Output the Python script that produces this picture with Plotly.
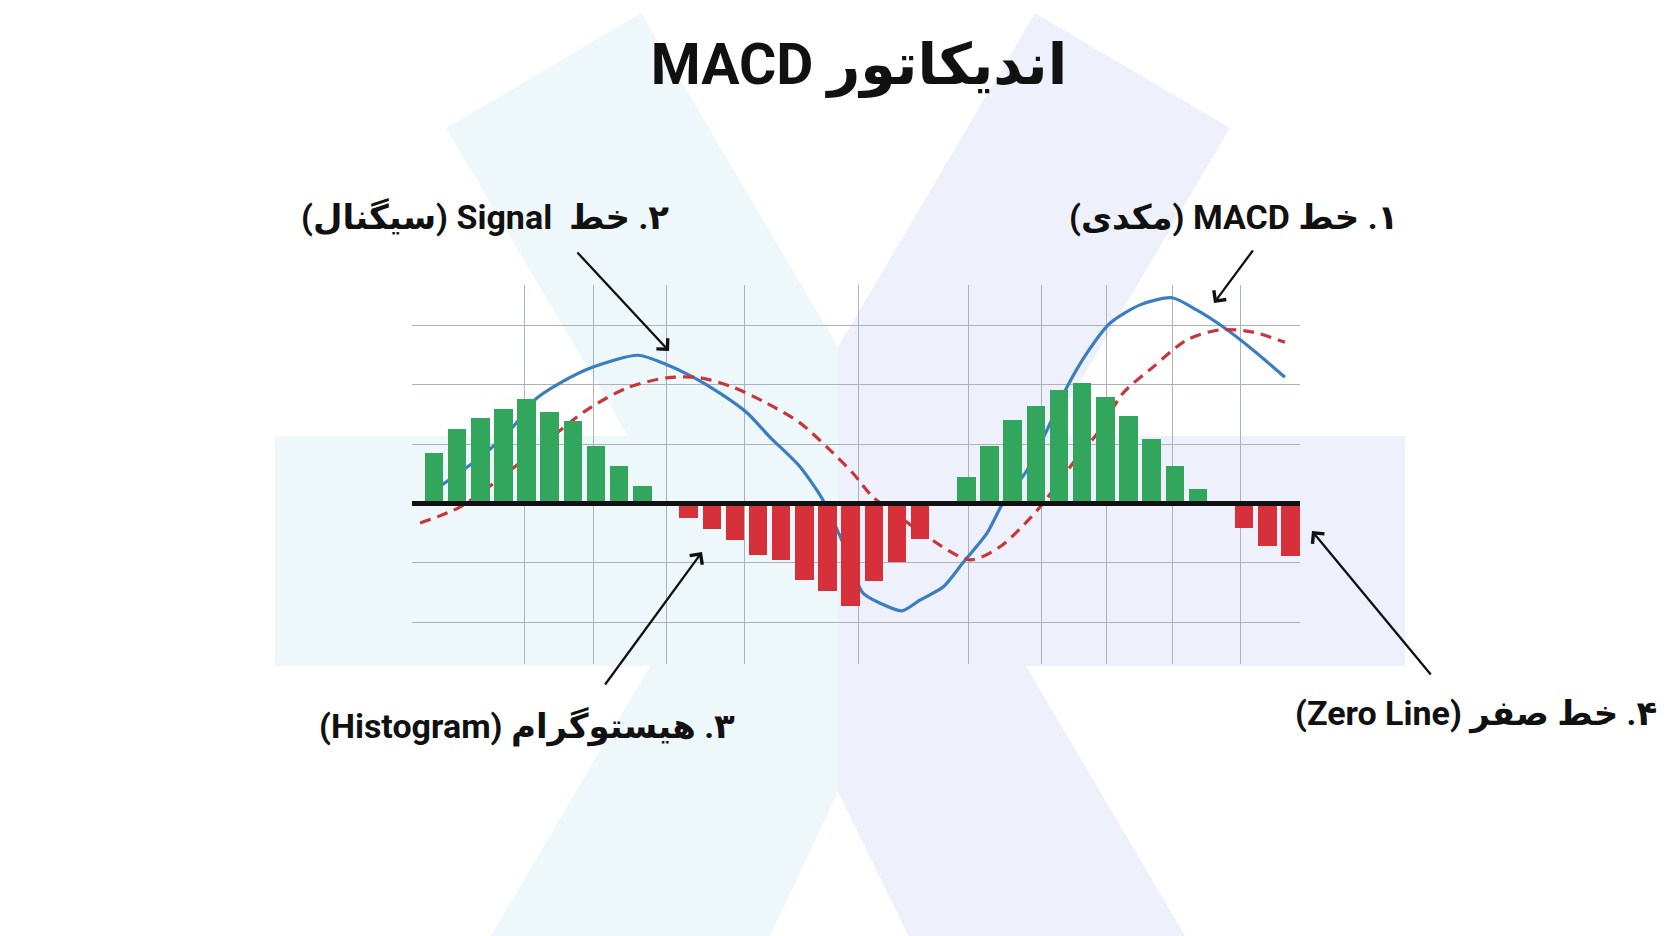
import plotly.graph_objects as go

# ---------------- data ----------------
hist_slots = list(range(38))
hist_values = [0.85, 1.25, 1.44, 1.60, 1.76, 1.55, 1.39, 0.97, 0.63, 0.30,
               0.0,
               -0.24, -0.43, -0.62, -0.87, -0.95, -1.29, -1.47, -1.73, -1.31, -0.99, -0.60,
               0.0,
               0.44, 0.97, 1.41, 1.65, 1.91, 2.04, 1.80, 1.48, 1.08, 0.63, 0.24,
               0.0,
               -0.41, -0.72, -0.88]

macd_x = [0.22, 1.25, 2.29, 3.41, 4.36, 5.44, 6.87, 8.81, 10.06, 11.19, 12.35, 13.52,
          14.51, 15.81, 16.80, 17.67, 18.53, 19.27, 20.22, 20.99, 21.99, 22.85, 23.89,
          24.58, 25.62, 26.48, 27.34, 28.21, 29.20, 30.50, 31.88, 32.96, 34.08, 35.38, 36.76]
macd_y = [0.28, 0.56, 0.87, 1.29, 1.75, 2.03, 2.30, 2.50, 2.34, 2.13, 1.86, 1.53,
          1.12, 0.62, 0.06, -0.67, -1.51, -1.68, -1.81, -1.63, -1.41, -1.00, -0.50,
          0.01, 0.56, 1.24, 1.96, 2.54, 3.04, 3.35, 3.47, 3.26, 2.98, 2.59, 2.13]

signal_x = [-0.60, 1.12, 3.20, 5.31, 6.61, 8.34, 10.06, 11.49, 12.92, 14.38, 15.81, 17.11,
            18.10, 18.96, 20.00, 21.30, 23.15, 24.45, 26.18, 27.60, 28.77, 29.76, 31.06,
            32.53, 33.96, 35.38, 36.76]
signal_y = [-0.33, -0.06, 0.53, 1.19, 1.58, 1.95, 2.12, 2.12, 1.96, 1.69, 1.36, 0.90,
            0.51, 0.11, -0.19, -0.56, -0.95, -0.73, -0.06, 0.68, 1.24, 1.86, 2.30,
            2.76, 2.93, 2.89, 2.72]

grid_x_ticks = [3.89, 6.91, 10.06, 13.43, 18.32, 23.07, 26.26, 29.07, 31.92, 34.86]

title_text = "اندیکاتور MACD"
label_macd = "۱. خط MACD (مکدی)"
label_signal = "۲. خط  Signal (سیگنال)"
label_hist = "۳. هیستوگرام (Histogram)"
label_zero = "۴. خط صفر (Zero Line)"

# ---------------- style ----------------
W, H = 1680, 936
L, R, T, B = 412, 1300, 285, 664          # plot area in pixels
X_RANGE = [-0.95, 37.41]
Y_RANGE = [-2.707, 3.685]
GREEN = "#33a65d"
RED = "#d6313a"
BLUE = "#3a7dc0"
SIGRED = "#c8363b"
GRID = "#adb1ba"
CYAN_BG = "#eef7fa"
LAV_BG = "#eef0fb"
FONT = "Roboto, DejaVu Sans, sans-serif"


def rtl(s):
    return "\u202B" + s + "\u202C"


def px(x, y):
    """pixel -> paper coordinates of the plot area"""
    return (x - L) / (R - L), (B - y) / (B - T)


def poly(points):
    pts = [px(x, y) for x, y in points]
    return "M " + " L ".join(f"{a:.5f},{b:.5f}" for a, b in pts) + " Z"


fig = go.Figure()

# lines (base axes, drawn below bars)
fig.add_trace(go.Scatter(x=macd_x, y=macd_y, mode="lines",
                         line=dict(color=BLUE, width=3.2, shape="spline", smoothing=0.7),
                         hoverinfo="skip", showlegend=False))
fig.add_trace(go.Scatter(x=signal_x, y=signal_y, mode="lines",
                         line=dict(color=SIGRED, width=3.2, dash="11px,7px", shape="spline", smoothing=0.8),
                         hoverinfo="skip", showlegend=False))

# histogram on overlay axes (drawn above lines)
bar_colors = [GREEN if v >= 0 else RED for v in hist_values]
fig.add_trace(go.Bar(x=hist_slots, y=hist_values, width=0.8,
                     marker=dict(color=bar_colors, line=dict(width=0)),
                     xaxis="x2", yaxis="y2", hoverinfo="skip", showlegend=False))

# background "X" watermark
split = 838
shapes = []
bg_polys = [
    (CYAN_BG, [(446, 128), (641, 13), (split, 347), (split, 792)]),
    (LAV_BG, [(split, 347), (1223, 1000), (940, 1000), (split, 792)]),
    (LAV_BG, [(1230, 128), (1035, 13), (split, 347), (split, 792)]),
    (CYAN_BG, [(split, 347), (split, 792), (740, 1000), (453, 1000)]),
    (CYAN_BG, [(275, 436), (split, 436), (split, 666), (275, 666)]),
    (LAV_BG, [(split, 436), (1405, 436), (1405, 666), (split, 666)]),
]
for col, pts in bg_polys:
    shapes.append(dict(type="path", xref="paper", yref="paper", path=poly(pts),
                       fillcolor=col, line=dict(width=0), layer="below"))

# zero line
shapes.append(dict(type="line", xref="paper", yref="y", x0=0, x1=1, y0=0, y1=0,
                   line=dict(color="#111111", width=5), layer="above"))

annotations = []
labels = [(label_macd, 1233, 217), (label_signal, 485, 217),
          (label_hist, 527, 726), (label_zero, 1476, 713)]
for txt, cx, cy in labels:
    ax_, ay_ = px(cx, cy)
    annotations.append(dict(text=rtl(txt), x=ax_, y=ay_, xref="paper", yref="paper",
                            xanchor="center", yanchor="middle", showarrow=False,
                            font=dict(family=FONT, size=34, color="#111111", weight="bold")))

arrows = [((1214, 303), (1254, 249)),
          ((669, 351), (576, 251)),
          ((702, 552), (604, 686)),
          ((1312, 531), (1432, 676))]
for (hx, hy), (tx, ty) in arrows:
    ax_, ay_ = px(hx, hy)
    annotations.append(dict(text="", x=ax_, y=ay_, xref="paper", yref="paper",
                            showarrow=True, ax=tx - hx, ay=ty - hy,
                            arrowhead=4, arrowsize=1.3, arrowwidth=2.3,
                            arrowcolor="#111111", standoff=0))

fig.update_layout(
    width=W, height=H, autosize=False,
    margin=dict(l=L, r=W - R, t=T, b=H - B, pad=0),
    paper_bgcolor="white", plot_bgcolor="rgba(0,0,0,0)",
    title=dict(text=rtl(title_text), x=859 / W, xanchor="center",
               y=1 - 64 / H, yanchor="middle", xref="container", yref="container",
               font=dict(family=FONT, size=57, color="#111111", weight="bold")),
    xaxis=dict(range=X_RANGE, tickvals=grid_x_ticks, showticklabels=False, ticks="",
               showgrid=True, gridcolor=GRID, gridwidth=1, zeroline=False, showline=False,
               fixedrange=True),
    yaxis=dict(range=Y_RANGE, tick0=0, dtick=1, showticklabels=False, ticks="",
               showgrid=True, gridcolor=GRID, gridwidth=1, zeroline=False, showline=False,
               fixedrange=True),
    xaxis2=dict(range=X_RANGE, overlaying="x", visible=False, fixedrange=True),
    yaxis2=dict(range=Y_RANGE, overlaying="y", visible=False, fixedrange=True),
    shapes=shapes, annotations=annotations, showlegend=False,
    bargap=0,
)

fig.write_html("out.html", config=dict(displayModeBar=False))
